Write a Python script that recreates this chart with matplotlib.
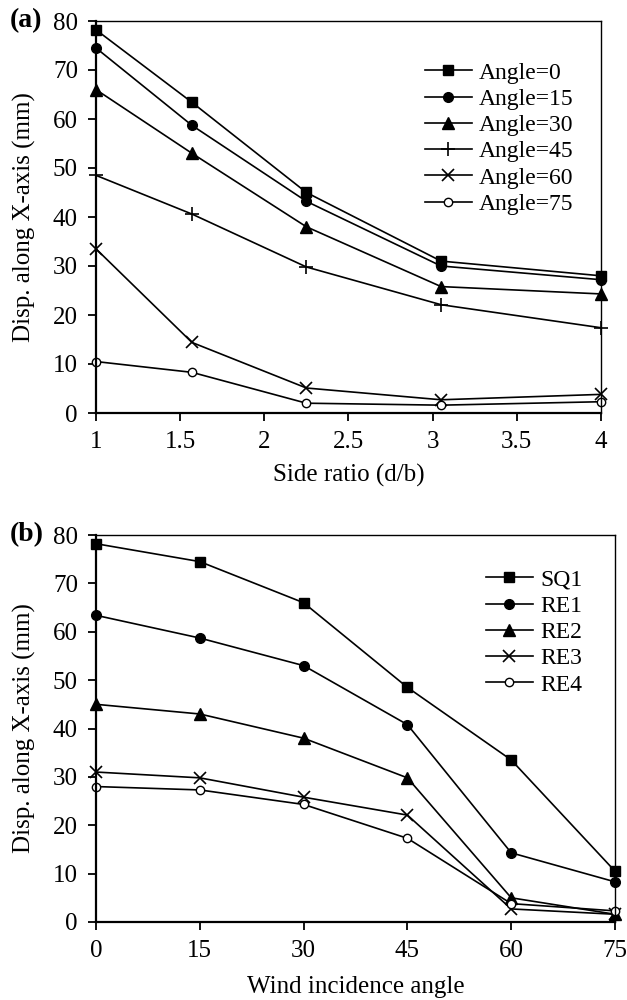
import matplotlib
matplotlib.use('Agg')
from matplotlib import pyplot as plt

plt.rcParams['font.family'] = ['Liberation Serif', 'DejaVu Serif']

# panel (a): side ratio on x, one line per wind angle
side_ratio = [1, 1.57, 2.25, 3.05, 4]
angle_0 = [78.2, 63.4, 45.0, 31.0, 28.0]
angle_15 = [74.5, 58.7, 43.2, 30.0, 27.2]
angle_30 = [66.0, 53.0, 38.0, 25.8, 24.3]
angle_45 = [48.5, 40.6, 29.8, 22.1, 17.4]
angle_60 = [33.5, 14.4, 5.1, 2.7, 3.8]
angle_75 = [10.5, 8.3, 2.0, 1.6, 2.3]

# panel (b): wind angle on x, one line per model
wind_angle = [0, 15, 30, 45, 60, 75]
sq1 = [78.2, 74.5, 66.0, 48.5, 33.5, 10.5]
re1 = [63.4, 58.7, 53.0, 40.8, 14.3, 8.3]
re2 = [45.0, 43.0, 38.0, 29.8, 5.0, 1.6]
re3 = [31.0, 29.8, 25.8, 22.1, 2.7, 1.6]
re4 = [28.0, 27.3, 24.3, 17.3, 3.8, 2.3]

labels_a = ['Angle=0', 'Angle=15', 'Angle=30', 'Angle=45', 'Angle=60', 'Angle=75']
labels_b = ['SQ1', 'RE1', 'RE2', 'RE3', 'RE4']

styles = [
    dict(marker='s', ms=7, mfc='black'),
    dict(marker='o', ms=7, mfc='black'),
    dict(marker='^', ms=8, mfc='black'),
    dict(marker='+', ms=10, mew=1.2),
    dict(marker='x', ms=8, mew=1.2),
    dict(marker='o', ms=6, mfc='white', mew=1.0),
]

fs = 18
leg_fs = 17


def style_axes(ax):
    for s in ['left', 'bottom']:
        ax.spines[s].set_linewidth(1.6)
    for s in ['top', 'right']:
        ax.spines[s].set_linewidth(1.0)
    ax.tick_params(direction='out', length=6, width=1.3, pad=7, labelsize=fs, colors='black')
    ax.set_ylim(0, 80)
    ax.set_yticks(range(0, 81, 10))
    ax.set_ylabel('Disp. along X-axis (mm)', fontsize=fs, labelpad=12)


fig = plt.figure(figsize=(6.27, 10), dpi=100)

ax1 = fig.add_axes([0.1531, 0.587, 0.8054, 0.392])
series_a = [angle_0, angle_15, angle_30, angle_45, angle_60, angle_75]
for y, lab, st in zip(series_a, labels_a, styles):
    ax1.plot(side_ratio, y, color='black', lw=1.2, mec='black', label=lab, clip_on=False, **st)
style_axes(ax1)
ax1.set_xlim(1, 4)
ax1.set_xticks([1, 1.5, 2, 2.5, 3, 3.5, 4])
ax1.set_xticklabels(['1', '1.5', '2', '2.5', '3', '3.5', '4'])
ax1.set_xlabel('Side ratio (d/b)', fontsize=fs, labelpad=8)
ax1.legend(loc='upper left', bbox_to_anchor=(0.651, 0.895), frameon=False, fontsize=leg_fs,
           borderpad=0, borderaxespad=0, handlelength=2.0, handletextpad=0.3, labelspacing=0.2)
fig.text(0.015, 0.979, '(a)', fontsize=20, fontweight='bold', va='center')

ax2 = fig.add_axes([0.1531, 0.078, 0.8278, 0.387])
series_b = [sq1, re1, re2, re3, re4]
for y, lab, st in zip(series_b, labels_b, styles[:3] + styles[4:6]):
    ax2.plot(wind_angle, y, color='black', lw=1.2, mec='black', label=lab, clip_on=False, **st)
style_axes(ax2)
ax2.set_xlim(0, 75)
ax2.set_xticks(wind_angle)
ax2.set_xlabel('Wind incidence angle', fontsize=fs, labelpad=10)
ax2.legend(loc='upper left', bbox_to_anchor=(0.751, 0.912), frameon=False, fontsize=leg_fs,
           borderpad=0, borderaxespad=0, handlelength=2.0, handletextpad=0.3, labelspacing=0.2)
fig.text(0.015, 0.465, '(b)', fontsize=20, fontweight='bold', va='center')

plt.savefig('out.png', dpi=100)
